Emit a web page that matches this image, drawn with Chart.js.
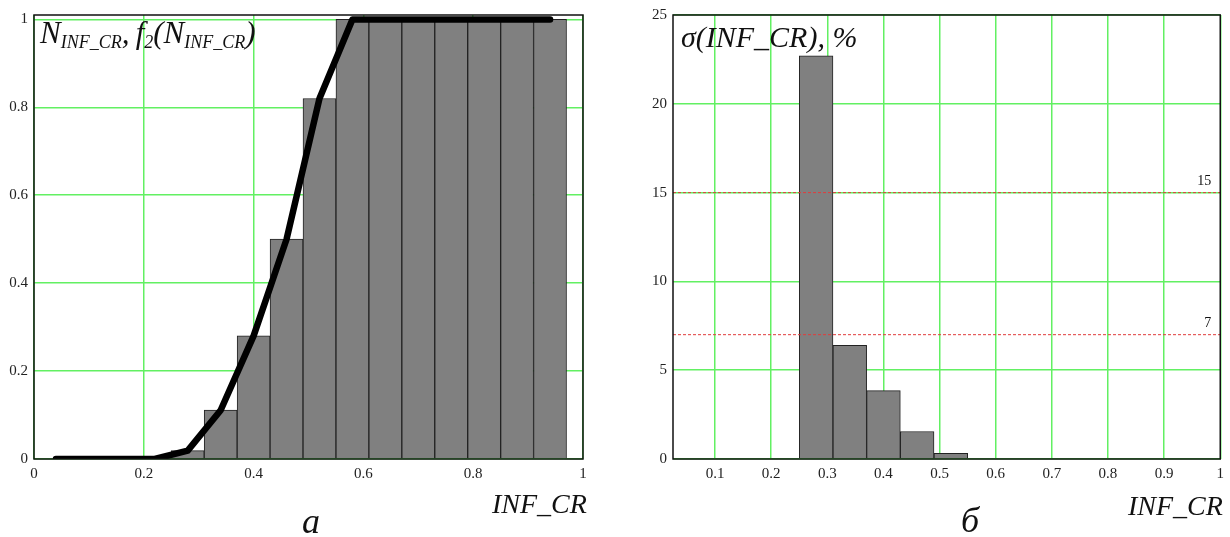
<!DOCTYPE html>
<html>
<head>
<meta charset="utf-8">
<script src="https://cdn.jsdelivr.net/npm/chart.js@4.4.1/dist/chart.umd.min.js"></script>
<style>
    body { margin: 0; background: #fff; width: 1230px; height: 537px; position: relative; overflow: hidden; font-family: 'Liberation Serif', serif; }
    canvas { position: absolute; top: 0; }
    #chartA { left: 0; }
    #chartB { left: 615px; }
    .lbl { position: absolute; font-style: italic; color: #111; line-height: 1; white-space: nowrap; }
    .sub { font-size: 18px; position: relative; top: 5px; }
</style>
</head>
<body>
<canvas id="chartA" width="615" height="537"></canvas>
<canvas id="chartB" width="615" height="537"></canvas>

<div class="lbl" style="left:40px; top:17px; font-size:31px;">N<span class="sub">INF_CR</span>,&#8201;f<span class="sub">2</span>(N<span class="sub">INF_CR</span>)</div>
<div class="lbl" style="left:681px; top:22px; font-size:30px;">σ(INF_CR), %</div>
<div class="lbl" style="left:492px; top:490px; font-size:28px;">INF_CR</div>
<div class="lbl" style="left:1128px; top:492px; font-size:28px;">INF_CR</div>
<div class="lbl" style="left:302px; top:503px; font-size:36px;">а</div>
<div class="lbl" style="left:961px; top:502px; font-size:36px;">б</div>

<script>
// а) histogram of N_INF_CR (bin centres, bin width 0.06) and the f2 curve
const binCentersA = [0.28, 0.34, 0.40, 0.46, 0.52, 0.58, 0.64, 0.70, 0.76, 0.82, 0.88, 0.94];
const nInfCr = [0.019, 0.111, 0.28, 0.50, 0.82, 1, 1, 1, 1, 1, 1, 1];
const curveX = [0.04, 0.10, 0.16, 0.22, 0.28, 0.34, 0.40, 0.46, 0.52, 0.58, 0.64, 0.70, 0.76, 0.82, 0.88, 0.94];
const f2 = [0, 0, 0, 0, 0.019, 0.111, 0.28, 0.50, 0.82, 1, 1, 1, 1, 1, 1, 1];
const xTicksA = [0, 0.2, 0.4, 0.6, 0.8, 1];
const yTicksA = [0, 0.2, 0.4, 0.6, 0.8, 1];

// б) sigma(INF_CR), %
const binCentersB = [0.28, 0.34, 0.40, 0.46, 0.52];
const sigma = [22.7, 6.4, 3.85, 1.55, 0.32];
const xTicksB = [0.1, 0.2, 0.3, 0.4, 0.5, 0.6, 0.7, 0.8, 0.9, 1];
const yTicksB = [0, 5, 10, 15, 20, 25];
const sigmaLevels = [15, 7];

const GRID = '#62f062';
const tickFont = { family: "'Liberation Serif', serif", size: 15 };

const framePlugin = {
    id: 'frame',
    afterDatasetsDraw(chart) {
        const a = chart.chartArea;
        const ctx = chart.ctx;
        ctx.save();
        ctx.strokeStyle = '#111';
        ctx.lineWidth = 1.5;
        ctx.strokeRect(a.left, a.top, a.right - a.left, a.bottom - a.top);
        ctx.restore();
    }
};

const levelLabels = {
    id: 'levelLabels',
    afterDatasetsDraw(chart) {
        const y = chart.scales.y;
        const ctx = chart.ctx;
        ctx.save();
        ctx.font = "14px 'Liberation Serif', serif";
        ctx.fillStyle = '#111';
        ctx.textAlign = 'right';
        sigmaLevels.forEach(v => ctx.fillText(String(v), chart.chartArea.right - 9, y.getPixelForValue(v) - 8));
        ctx.restore();
    }
};

function axis(min, max, ticks, size, isX) {
    return {
        type: 'linear',
        min: min,
        max: max,
        offset: false,
        grid: { offset: false, color: GRID, lineWidth: 1.5, drawTicks: false },
        border: { display: false },
        ticks: { font: tickFont, color: '#222', padding: 6, maxRotation: 0, autoSkip: false, callback: v => String(v) },
        afterBuildTicks: s => { s.ticks = ticks.map(v => ({ value: v })); },
        afterFit: s => { if (isX) s.height = size; else s.width = size; }
    };
}

const common = {
    responsive: false,
    animation: false,
    plugins: { legend: { display: false }, tooltip: { enabled: false } }
};

new Chart(document.getElementById('chartA'), {
    type: 'bar',
    data: {
        datasets: [{
            type: 'line',
            data: curveX.map((x, i) => ({ x: x, y: f2[i] })),
            borderColor: '#000',
            borderWidth: 6.5,
            borderCapStyle: 'round',
            borderJoinStyle: 'round',
            pointRadius: 0,
            tension: 0,
            order: 0
        }, {
            data: binCentersA.map((x, i) => ({ x: x, y: nInfCr[i] })),
            backgroundColor: '#808080',
            borderColor: '#222',
            borderWidth: 1,
            barPercentage: 1,
            categoryPercentage: 1,
            order: 1
        }]
    },
    options: Object.assign({}, common, {
        layout: { padding: { left: 0, top: 15, right: 32, bottom: 48 } },
        scales: {
            x: axis(0, 1, xTicksA, 30, true),
            y: axis(0, 1.01, yTicksA, 34, false)
        }
    }),
    plugins: [framePlugin]
});

new Chart(document.getElementById('chartB'), {
    type: 'bar',
    data: {
        datasets: sigmaLevels.map(v => ({
            type: 'line',
            data: [{ x: 0.025, y: v }, { x: 1, y: v }],
            borderColor: '#e03c3c',
            borderWidth: 1,
            borderDash: [3, 2],
            pointRadius: 0,
            order: 0
        })).concat([{
            data: binCentersB.map((x, i) => ({ x: x, y: sigma[i] })),
            backgroundColor: '#808080',
            borderColor: '#222',
            borderWidth: 1,
            barPercentage: 1,
            categoryPercentage: 1,
            order: 1
        }])
    },
    options: Object.assign({}, common, {
        layout: { padding: { left: 0, top: 15, right: 8, bottom: 48 } },
        scales: {
            x: axis(0.025, 1, xTicksB, 30, true),
            y: axis(0, 25, yTicksB, 58, false)
        }
    }),
    plugins: [framePlugin, levelLabels]
});
</script>
</body>
</html>
